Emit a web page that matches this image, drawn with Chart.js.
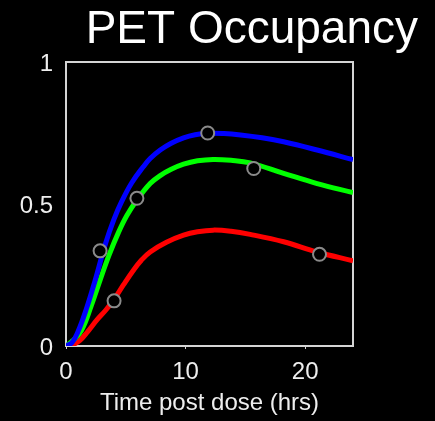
<!DOCTYPE html>
<html>
<head>
<meta charset="utf-8">
<script src="https://cdn.jsdelivr.net/npm/chart.js@4/dist/chart.umd.min.js"></script>
<style>
  html, body { margin: 0; padding: 0; background: #000; }
  #c { display: block; }
</style>
</head>
<body>
<canvas id="c" width="435" height="421"></canvas>
<script>
// ---- data ----
const titleText = "PET Occupancy";
const xAxisTitle = "Time post dose (hrs)";
const xTicks = [0, 10, 20];
const yTicks = [0, 0.5, 1];
const xMax = 24;

const blueX = [0, 0.5, 1.0, 1.7, 2.43, 3.3, 4.0, 4.67, 5.5, 6.48, 7.04, 7.88, 8.8, 9.83, 10.8, 11.8, 13.2, 14.6, 16.4, 18.2, 21.0, 24];
const blueY = [0, 0.012, 0.05, 0.13, 0.23, 0.36, 0.445, 0.51, 0.575, 0.632, 0.66, 0.69, 0.714, 0.733, 0.744, 0.749, 0.748, 0.743, 0.733, 0.719, 0.69, 0.656];

const greenX = [0, 0.6, 1.31, 2.1, 2.85, 3.6, 4.39, 5.1, 5.93, 7.04, 7.88, 8.8, 9.83, 11.0, 12.3, 13.8, 15.4, 18.2, 21.0, 24];
const greenY = [0, 0.02, 0.056, 0.14, 0.232, 0.32, 0.4, 0.46, 0.514, 0.572, 0.6, 0.622, 0.64, 0.652, 0.657, 0.654, 0.645, 0.608, 0.572, 0.54];

const redX = [0, 0.5, 1.17, 1.8, 2.57, 3.3, 3.97, 4.8, 5.64, 6.3, 7.04, 8.4, 9.83, 11.0, 12.3, 13.8, 15.4, 18.2, 21.0, 24];
const redY = [0, 0.003, 0.02, 0.05, 0.091, 0.125, 0.161, 0.215, 0.267, 0.302, 0.331, 0.365, 0.39, 0.402, 0.408, 0.404, 0.393, 0.367, 0.331, 0.3];

const markX = [2.85, 11.85, 5.93, 15.7, 4.02, 21.2];
const markY = [0.335, 0.75, 0.52, 0.625, 0.159, 0.323];

const pts = (xs, ys) => xs.map((x, i) => ({ x: x, y: ys[i] }));

const bgPlugin = {
  id: 'bg',
  beforeDraw(chart) {
    const ctx = chart.ctx;
    ctx.save();
    ctx.fillStyle = '#000';
    ctx.fillRect(0, 0, chart.width, chart.height);
    ctx.restore();
  },
  beforeDatasetsDraw(chart) {
    const a = chart.chartArea, ctx = chart.ctx;
    ctx.save();
    ctx.strokeStyle = '#d4d4d4';
    ctx.lineWidth = 2;
    ctx.strokeRect(a.left, a.top, a.right - a.left, a.bottom - a.top);
    ctx.restore();
  },
  afterDraw(chart) {
    const ctx = chart.ctx;
    ctx.save();
    ctx.fillStyle = '#ffffff';
    ctx.font = '46px "Liberation Sans", Arial, sans-serif';
    ctx.textAlign = 'right';
    ctx.textBaseline = 'alphabetic';
    ctx.fillText(titleText, 418, 43);
    ctx.restore();
  }
};

const lineDs = (data, color) => ({
  data: data,
  borderColor: color,
  backgroundColor: color,
  borderWidth: 5,
  pointRadius: 0,
  pointHoverRadius: 0,
  tension: 0.4,
  fill: false,
  showLine: true,
  order: 1
});

new Chart(document.getElementById('c'), {
  type: 'scatter',
  data: {
    datasets: [
      lineDs(pts(blueX, blueY), '#0000ff'),
      lineDs(pts(greenX, greenY), '#00ff00'),
      lineDs(pts(redX, redY), '#ff0000'),
      {
        data: pts(markX, markY),
        showLine: false,
        pointRadius: 6.5,
        pointBorderWidth: 2,
        pointBorderColor: '#8a8a8a',
        pointBackgroundColor: '#000000',
        clip: false,
        order: 0
      }
    ]
  },
  plugins: [bgPlugin],
  options: {
    responsive: false,
    animation: false,
    devicePixelRatio: 1,
    layout: { padding: { top: 62, right: 82, left: 0, bottom: 0 } },
    plugins: { legend: { display: false }, tooltip: { enabled: false }, title: { display: false } },
    scales: {
      x: {
        type: 'linear',
        min: 0,
        max: xMax,
        afterBuildTicks: s => { s.ticks = xTicks.map(v => ({ value: v })); },
        afterFit: s => { s.height = 75; },
        grid: { display: true, drawOnChartArea: false, drawTicks: true, tickLength: 3, tickColor: '#d4d4d4', color: '#d4d4d4' },
        border: { display: false },
        ticks: {
          color: '#eeeeee',
          font: { family: '"Liberation Sans", Arial, sans-serif', size: 24 },
          padding: 9,
          maxRotation: 0,
          callback: v => String(v)
        },
        title: {
          display: true,
          text: xAxisTitle,
          color: '#eeeeee',
          font: { family: '"Liberation Sans", Arial, sans-serif', size: 24 },
          padding: { top: 3, bottom: 3 }
        }
      },
      y: {
        type: 'linear',
        min: 0,
        max: 1,
        afterBuildTicks: s => { s.ticks = yTicks.map(v => ({ value: v })); },
        afterFit: s => { s.width = 66; },
        grid: { display: false, drawTicks: false },
        border: { display: false },
        ticks: {
          color: '#eeeeee',
          font: { family: '"Liberation Sans", Arial, sans-serif', size: 24 },
          padding: 13,
          labelOffset: 2,
          callback: v => String(v)
        }
      }
    }
  }
});
</script>
</body>
</html>
